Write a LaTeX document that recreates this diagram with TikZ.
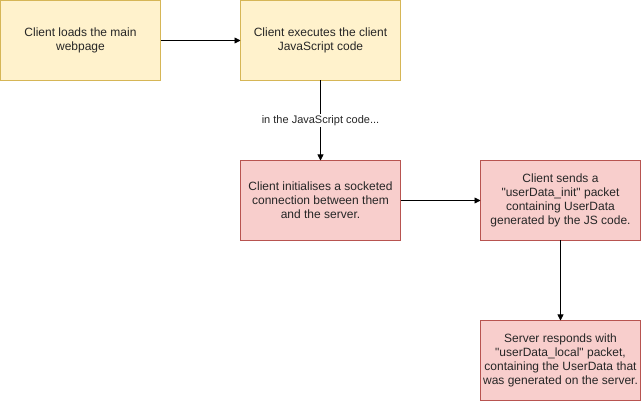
\documentclass[tikz,border=0pt]{standalone}
\usepackage{fontspec}
\setmainfont{Liberation Sans}
\usetikzlibrary{arrows.meta}

\definecolor{yfill}{HTML}{FFF2CC}
\definecolor{ydraw}{HTML}{D6B656}
\definecolor{rfill}{HTML}{F8CECC}
\definecolor{rdraw}{HTML}{B85450}

\begin{document}
\begin{tikzpicture}[x=1pt, y=-1pt,
        stepbox/.style={rectangle, draw, line width=0.75pt, minimum width=160pt, minimum height=80pt,
            inner sep=0pt, outer sep=0pt, align=center,
            font=\fontsize{12}{14}\selectfont, text=black!85},
        yellowbox/.style={stepbox, fill=yfill, draw=ydraw},
        redbox/.style={stepbox, fill=rfill, draw=rdraw},
        >={Triangle[length=6pt, width=6pt]}]
        \useasboundingbox (-0.5,-0.5) rectangle (640.5,400.5);
        \node[yellowbox] (load) at (80,40) {Client loads the main\\webpage};
        \node[yellowbox] (exec) at (320,40) {Client executes the client\\JavaScript code};
        \node[redbox] (socket) at (320,200) {Client initialises a socketed\\connection between them\\and the server.};
        \node[redbox] (init) at (560,200) {Client sends a\\\textquotedbl userData\_init\textquotedbl\ packet\\containing UserData\\generated by the JS code.};
        \node[redbox] (local) at (560,360) {Server responds with\\\textquotedbl userData\_local\textquotedbl\ packet,\\containing the UserData that\\was generated on the server.};
        \draw[->, line width=0.75pt] (load) -- (exec);
        \draw[->, line width=0.75pt] (exec) -- node[fill=white, inner sep=1pt, font=\fontsize{11}{13}\selectfont, text=black!85] (jslabel) {in the JavaScript code...} (socket);
        \draw[->, line width=0.75pt] (socket) -- (init);
        \draw[->, line width=0.75pt] (init) -- (local);
    \end{tikzpicture}
\end{document}
